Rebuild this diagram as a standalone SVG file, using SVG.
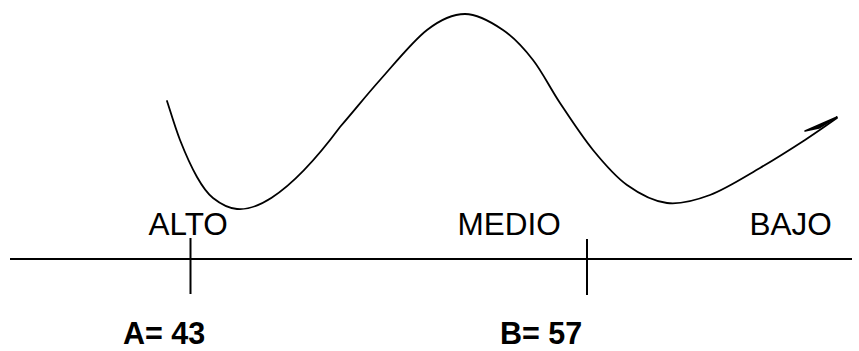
<svg xmlns="http://www.w3.org/2000/svg" width="859" height="351" viewBox="0 0 859 351">
<style>
.ln{stroke:#000;stroke-width:2;fill:none}
.cv{stroke:#000;stroke-width:1.8;fill:none;stroke-linecap:round}
.lb{font-family:"Liberation Sans",Arial,sans-serif;font-size:31.5px;fill:#000}
.vl{font-family:"Liberation Sans",Arial,sans-serif;font-size:30.5px;font-weight:bold;fill:#000}
</style>
<rect width="859" height="351" fill="#fff"/>
<g id="connectors">
<line class="ln" x1="10" y1="259" x2="852" y2="259"/>
<line class="ln" x1="190.5" y1="238" x2="190.5" y2="294"/>
<line class="ln" x1="587" y1="239" x2="587" y2="295"/>
<path id="curve" class="cv" d="M167,101 C169.2,107.5 175,127.3 180,140 C185,152.7 191.5,167.3 197,177 C202.5,186.7 206.3,192.7 213,198 C219.7,203.3 228.8,208.3 237,209 C250,210.2 282,205 340,127 C355,109.8 365.5,96.2 380,80 C394.5,63.8 412.8,41 427,30 C441.2,19 452.3,14 465,14 C477.7,14 491.7,22.3 503,30 C514.3,37.7 523.5,47.8 533,60 C542.5,72.2 550,88 560,103 C570,118 581.8,136.3 593,150 C604.2,163.7 614.7,176.2 627,185 C639.3,193.8 653.2,201.3 667,203 C680.8,204.7 694.5,200.8 710,195 C725.5,189.2 744.2,177.2 760,168 C775.8,158.8 792.2,148.3 805,140 C817.8,131.7 831.7,121.7 837,118"/>
<path id="arrow" d="M805,131 L837,117 L819,128 Z" fill="#000" stroke="#000" stroke-width="1.5" stroke-linejoin="round"/>
</g>
<g id="alto"><text class="lb" x="148.5" y="235">ALTO</text></g>
<g id="medio"><text class="lb" x="457.5" y="235">MEDIO</text></g>
<g id="bajo"><text class="lb" x="749.5" y="235">BAJO</text></g>
<g id="a43"><text class="vl" x="123" y="344">A= 43</text></g>
<g id="b57"><text class="vl" x="500" y="344">B= 57</text></g>
</svg>
